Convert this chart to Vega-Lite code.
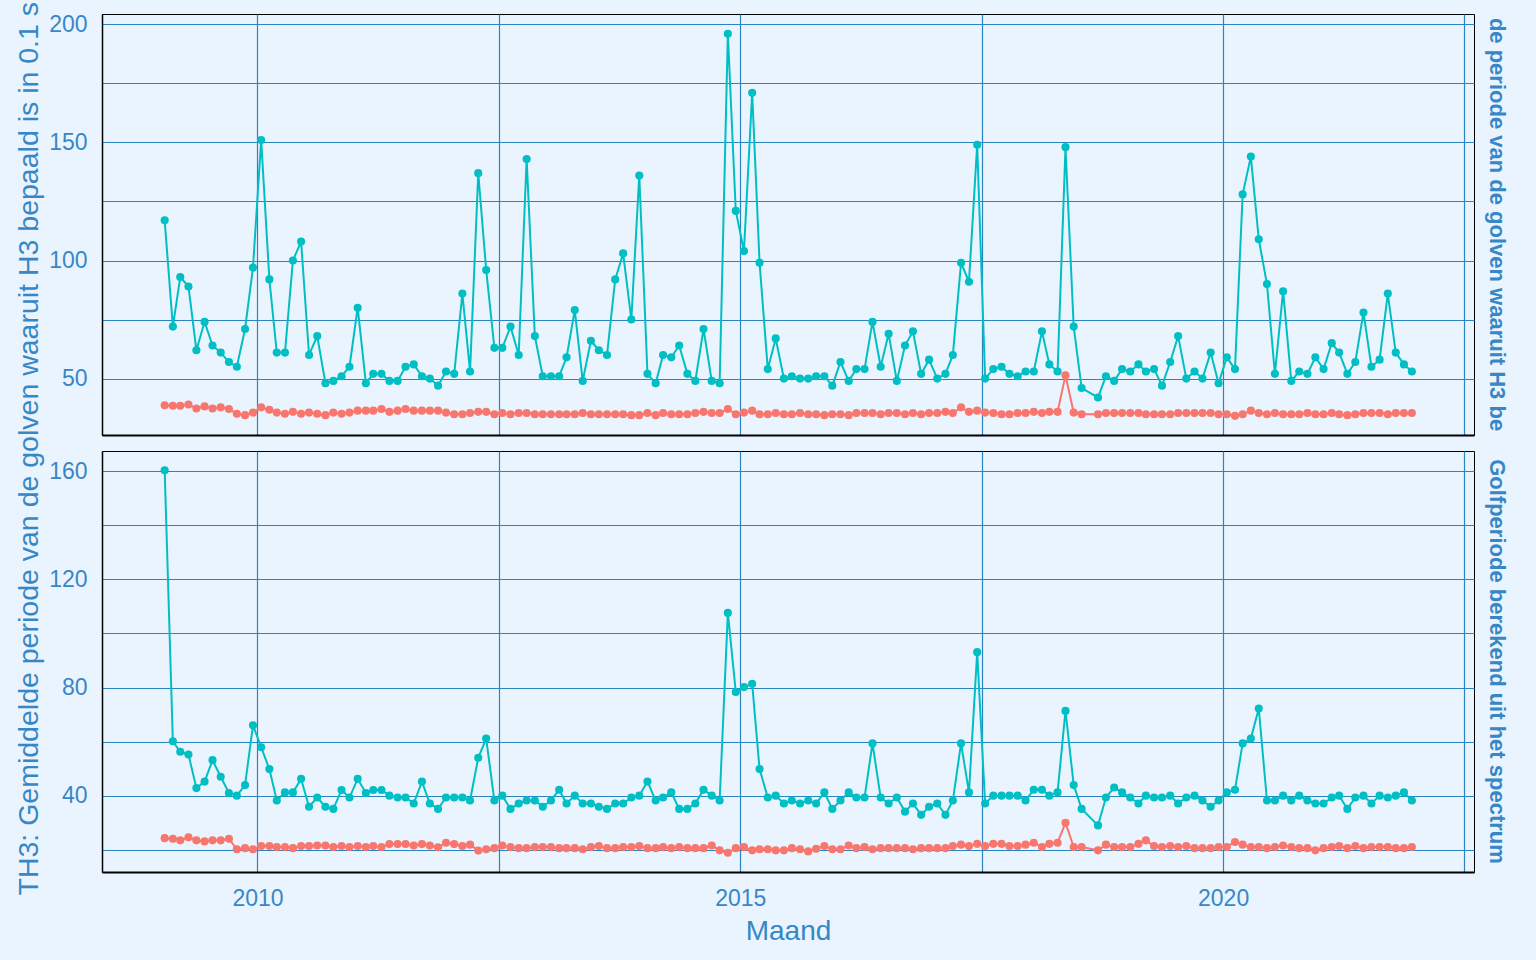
{
  "$schema": "https://vega.github.io/schema/vega-lite/v6.json",
  "autosize": {"type": "none"},
  "padding": {"left": 102, "top": 14, "right": 1434, "bottom": 946},
  "background": "#EAF4FE",
  "spacing": 16,
  "bounds": "flush",
  "config": {
    "font": "Liberation Sans",
    "view": {"stroke": "black", "strokeWidth": 1, "fill": "#EAF4FE"},
    "axis": {
      "gridColor": "#2B83C0", "gridWidth": 1.2, "gridOpacity": 1,
      "ticks": false, "tickSize": 0,
      "labelColor": "#3787C7", "labelFontSize": 23,
      "titleColor": "#3787C7", "titleFontSize": 28, "titleFontWeight": "normal",
      "domainColor": "black"
    }
  },
  "datasets": {
    "th3": [
      {"maand":"2009-01-15","reeks":"A","waarde":38.7},{"maand":"2009-02-15","reeks":"A","waarde":38.5},{"maand":"2009-03-15","reeks":"A","waarde":38.5},{"maand":"2009-04-15","reeks":"A","waarde":39.0},{"maand":"2009-05-15","reeks":"A","waarde":37.3},{"maand":"2009-06-15","reeks":"A","waarde":38.2},{"maand":"2009-07-15","reeks":"A","waarde":37.3},{"maand":"2009-08-15","reeks":"A","waarde":37.8},{"maand":"2009-09-15","reeks":"A","waarde":37.1},{"maand":"2009-10-15","reeks":"A","waarde":35.1},{"maand":"2009-11-15","reeks":"A","waarde":34.5},{"maand":"2009-12-15","reeks":"A","waarde":35.6},
      {"maand":"2010-01-15","reeks":"A","waarde":37.8},{"maand":"2010-02-15","reeks":"A","waarde":36.8},{"maand":"2010-03-15","reeks":"A","waarde":35.6},{"maand":"2010-04-15","reeks":"A","waarde":35.1},{"maand":"2010-05-15","reeks":"A","waarde":35.9},{"maand":"2010-06-15","reeks":"A","waarde":35.1},{"maand":"2010-07-15","reeks":"A","waarde":35.6},{"maand":"2010-08-15","reeks":"A","waarde":35.1},{"maand":"2010-09-15","reeks":"A","waarde":34.5},{"maand":"2010-10-15","reeks":"A","waarde":35.6},{"maand":"2010-11-15","reeks":"A","waarde":35.1},{"maand":"2010-12-15","reeks":"A","waarde":35.6},
      {"maand":"2011-01-15","reeks":"A","waarde":36.4},{"maand":"2011-02-15","reeks":"A","waarde":36.4},{"maand":"2011-03-15","reeks":"A","waarde":36.4},{"maand":"2011-04-15","reeks":"A","waarde":37.1},{"maand":"2011-05-15","reeks":"A","waarde":35.9},{"maand":"2011-06-15","reeks":"A","waarde":36.4},{"maand":"2011-07-15","reeks":"A","waarde":37.1},{"maand":"2011-08-15","reeks":"A","waarde":36.4},{"maand":"2011-09-15","reeks":"A","waarde":36.4},{"maand":"2011-10-15","reeks":"A","waarde":36.4},{"maand":"2011-11-15","reeks":"A","waarde":36.4},{"maand":"2011-12-15","reeks":"A","waarde":35.6},
      {"maand":"2012-01-15","reeks":"A","waarde":34.9},{"maand":"2012-02-15","reeks":"A","waarde":34.9},{"maand":"2012-03-15","reeks":"A","waarde":35.4},{"maand":"2012-04-15","reeks":"A","waarde":35.9},{"maand":"2012-05-15","reeks":"A","waarde":35.9},{"maand":"2012-06-15","reeks":"A","waarde":34.9},{"maand":"2012-07-15","reeks":"A","waarde":35.4},{"maand":"2012-08-15","reeks":"A","waarde":34.9},{"maand":"2012-09-15","reeks":"A","waarde":35.4},{"maand":"2012-10-15","reeks":"A","waarde":35.4},{"maand":"2012-11-15","reeks":"A","waarde":34.9},{"maand":"2012-12-15","reeks":"A","waarde":34.9},
      {"maand":"2013-01-15","reeks":"A","waarde":34.9},{"maand":"2013-02-15","reeks":"A","waarde":34.9},{"maand":"2013-03-15","reeks":"A","waarde":34.9},{"maand":"2013-04-15","reeks":"A","waarde":34.9},{"maand":"2013-05-15","reeks":"A","waarde":35.4},{"maand":"2013-06-15","reeks":"A","waarde":34.9},{"maand":"2013-07-15","reeks":"A","waarde":34.9},{"maand":"2013-08-15","reeks":"A","waarde":34.9},{"maand":"2013-09-15","reeks":"A","waarde":34.9},{"maand":"2013-10-15","reeks":"A","waarde":34.9},{"maand":"2013-11-15","reeks":"A","waarde":34.5},{"maand":"2013-12-15","reeks":"A","waarde":34.5},
      {"maand":"2014-01-15","reeks":"A","waarde":35.4},{"maand":"2014-02-15","reeks":"A","waarde":34.5},{"maand":"2014-03-15","reeks":"A","waarde":35.4},{"maand":"2014-04-15","reeks":"A","waarde":34.9},{"maand":"2014-05-15","reeks":"A","waarde":34.9},{"maand":"2014-06-15","reeks":"A","waarde":34.9},{"maand":"2014-07-15","reeks":"A","waarde":35.4},{"maand":"2014-08-15","reeks":"A","waarde":35.9},{"maand":"2014-09-15","reeks":"A","waarde":35.4},{"maand":"2014-10-15","reeks":"A","waarde":35.4},{"maand":"2014-11-15","reeks":"A","waarde":37.1},{"maand":"2014-12-15","reeks":"A","waarde":34.9},
      {"maand":"2015-01-15","reeks":"A","waarde":35.6},{"maand":"2015-02-15","reeks":"A","waarde":36.4},{"maand":"2015-03-15","reeks":"A","waarde":34.9},{"maand":"2015-04-15","reeks":"A","waarde":34.9},{"maand":"2015-05-15","reeks":"A","waarde":35.4},{"maand":"2015-06-15","reeks":"A","waarde":34.9},{"maand":"2015-07-15","reeks":"A","waarde":34.9},{"maand":"2015-08-15","reeks":"A","waarde":35.4},{"maand":"2015-09-15","reeks":"A","waarde":34.9},{"maand":"2015-10-15","reeks":"A","waarde":34.9},{"maand":"2015-11-15","reeks":"A","waarde":34.5},{"maand":"2015-12-15","reeks":"A","waarde":34.9},
      {"maand":"2016-01-15","reeks":"A","waarde":34.9},{"maand":"2016-02-15","reeks":"A","waarde":34.5},{"maand":"2016-03-15","reeks":"A","waarde":35.4},{"maand":"2016-04-15","reeks":"A","waarde":35.4},{"maand":"2016-05-15","reeks":"A","waarde":35.4},{"maand":"2016-06-15","reeks":"A","waarde":34.9},{"maand":"2016-07-15","reeks":"A","waarde":35.4},{"maand":"2016-08-15","reeks":"A","waarde":35.4},{"maand":"2016-09-15","reeks":"A","waarde":34.9},{"maand":"2016-10-15","reeks":"A","waarde":35.4},{"maand":"2016-11-15","reeks":"A","waarde":34.9},{"maand":"2016-12-15","reeks":"A","waarde":35.4},
      {"maand":"2017-01-15","reeks":"A","waarde":35.4},{"maand":"2017-02-15","reeks":"A","waarde":35.9},{"maand":"2017-03-15","reeks":"A","waarde":35.4},{"maand":"2017-04-15","reeks":"A","waarde":37.8},{"maand":"2017-05-15","reeks":"A","waarde":35.9},{"maand":"2017-06-15","reeks":"A","waarde":36.4},{"maand":"2017-07-15","reeks":"A","waarde":35.6},{"maand":"2017-08-15","reeks":"A","waarde":35.4},{"maand":"2017-09-15","reeks":"A","waarde":34.9},{"maand":"2017-10-15","reeks":"A","waarde":34.9},{"maand":"2017-11-15","reeks":"A","waarde":35.4},{"maand":"2017-12-15","reeks":"A","waarde":35.4},
      {"maand":"2018-01-15","reeks":"A","waarde":35.9},{"maand":"2018-02-15","reeks":"A","waarde":35.4},{"maand":"2018-03-15","reeks":"A","waarde":35.9},{"maand":"2018-04-15","reeks":"A","waarde":35.9},{"maand":"2018-05-15","reeks":"A","waarde":51.4},{"maand":"2018-06-15","reeks":"A","waarde":35.6},{"maand":"2018-07-15","reeks":"A","waarde":34.9},{"maand":"2018-09-15","reeks":"A","waarde":34.9},{"maand":"2018-10-15","reeks":"A","waarde":35.4},{"maand":"2018-11-15","reeks":"A","waarde":35.4},{"maand":"2018-12-15","reeks":"A","waarde":35.4},
      {"maand":"2019-01-15","reeks":"A","waarde":35.4},{"maand":"2019-02-15","reeks":"A","waarde":35.4},{"maand":"2019-03-15","reeks":"A","waarde":34.9},{"maand":"2019-04-15","reeks":"A","waarde":34.9},{"maand":"2019-05-15","reeks":"A","waarde":34.9},{"maand":"2019-06-15","reeks":"A","waarde":34.9},{"maand":"2019-07-15","reeks":"A","waarde":35.4},{"maand":"2019-08-15","reeks":"A","waarde":35.4},{"maand":"2019-09-15","reeks":"A","waarde":35.4},{"maand":"2019-10-15","reeks":"A","waarde":35.4},{"maand":"2019-11-15","reeks":"A","waarde":35.4},{"maand":"2019-12-15","reeks":"A","waarde":34.9},
      {"maand":"2020-01-15","reeks":"A","waarde":34.9},{"maand":"2020-02-15","reeks":"A","waarde":34.2},{"maand":"2020-03-15","reeks":"A","waarde":34.9},{"maand":"2020-04-15","reeks":"A","waarde":36.4},{"maand":"2020-05-15","reeks":"A","waarde":35.4},{"maand":"2020-06-15","reeks":"A","waarde":34.9},{"maand":"2020-07-15","reeks":"A","waarde":35.4},{"maand":"2020-08-15","reeks":"A","waarde":34.9},{"maand":"2020-09-15","reeks":"A","waarde":34.9},{"maand":"2020-10-15","reeks":"A","waarde":34.9},{"maand":"2020-11-15","reeks":"A","waarde":35.4},{"maand":"2020-12-15","reeks":"A","waarde":34.9},
      {"maand":"2021-01-15","reeks":"A","waarde":34.9},{"maand":"2021-02-15","reeks":"A","waarde":35.4},{"maand":"2021-03-15","reeks":"A","waarde":34.9},{"maand":"2021-04-15","reeks":"A","waarde":34.5},{"maand":"2021-05-15","reeks":"A","waarde":34.9},{"maand":"2021-06-15","reeks":"A","waarde":35.4},{"maand":"2021-07-15","reeks":"A","waarde":35.4},{"maand":"2021-08-15","reeks":"A","waarde":35.4},{"maand":"2021-09-15","reeks":"A","waarde":34.9},{"maand":"2021-10-15","reeks":"A","waarde":35.4},{"maand":"2021-11-15","reeks":"A","waarde":35.4},{"maand":"2021-12-15","reeks":"A","waarde":35.4},
      {"maand":"2009-01-15","reeks":"B","waarde":117},{"maand":"2009-02-15","reeks":"B","waarde":72},{"maand":"2009-03-15","reeks":"B","waarde":93},{"maand":"2009-04-15","reeks":"B","waarde":89},{"maand":"2009-05-15","reeks":"B","waarde":62},{"maand":"2009-06-15","reeks":"B","waarde":74},{"maand":"2009-07-15","reeks":"B","waarde":64},{"maand":"2009-08-15","reeks":"B","waarde":61},{"maand":"2009-09-15","reeks":"B","waarde":57},{"maand":"2009-10-15","reeks":"B","waarde":55},{"maand":"2009-11-15","reeks":"B","waarde":71},{"maand":"2009-12-15","reeks":"B","waarde":97},
      {"maand":"2010-01-15","reeks":"B","waarde":151},{"maand":"2010-02-15","reeks":"B","waarde":92},{"maand":"2010-03-15","reeks":"B","waarde":61},{"maand":"2010-04-15","reeks":"B","waarde":61},{"maand":"2010-05-15","reeks":"B","waarde":100},{"maand":"2010-06-15","reeks":"B","waarde":108},{"maand":"2010-07-15","reeks":"B","waarde":60},{"maand":"2010-08-15","reeks":"B","waarde":68},{"maand":"2010-09-15","reeks":"B","waarde":48},{"maand":"2010-10-15","reeks":"B","waarde":49},{"maand":"2010-11-15","reeks":"B","waarde":51},{"maand":"2010-12-15","reeks":"B","waarde":55},
      {"maand":"2011-01-15","reeks":"B","waarde":80},{"maand":"2011-02-15","reeks":"B","waarde":48},{"maand":"2011-03-15","reeks":"B","waarde":52},{"maand":"2011-04-15","reeks":"B","waarde":52},{"maand":"2011-05-15","reeks":"B","waarde":49},{"maand":"2011-06-15","reeks":"B","waarde":49},{"maand":"2011-07-15","reeks":"B","waarde":55},{"maand":"2011-08-15","reeks":"B","waarde":56},{"maand":"2011-09-15","reeks":"B","waarde":51},{"maand":"2011-10-15","reeks":"B","waarde":50},{"maand":"2011-11-15","reeks":"B","waarde":47},{"maand":"2011-12-15","reeks":"B","waarde":53},
      {"maand":"2012-01-15","reeks":"B","waarde":52},{"maand":"2012-02-15","reeks":"B","waarde":86},{"maand":"2012-03-15","reeks":"B","waarde":53},{"maand":"2012-04-15","reeks":"B","waarde":137},{"maand":"2012-05-15","reeks":"B","waarde":96},{"maand":"2012-06-15","reeks":"B","waarde":63},{"maand":"2012-07-15","reeks":"B","waarde":63},{"maand":"2012-08-15","reeks":"B","waarde":72},{"maand":"2012-09-15","reeks":"B","waarde":60},{"maand":"2012-10-15","reeks":"B","waarde":143},{"maand":"2012-11-15","reeks":"B","waarde":68},{"maand":"2012-12-15","reeks":"B","waarde":51},
      {"maand":"2013-01-15","reeks":"B","waarde":51},{"maand":"2013-02-15","reeks":"B","waarde":51},{"maand":"2013-03-15","reeks":"B","waarde":59},{"maand":"2013-04-15","reeks":"B","waarde":79},{"maand":"2013-05-15","reeks":"B","waarde":49},{"maand":"2013-06-15","reeks":"B","waarde":66},{"maand":"2013-07-15","reeks":"B","waarde":62},{"maand":"2013-08-15","reeks":"B","waarde":60},{"maand":"2013-09-15","reeks":"B","waarde":92},{"maand":"2013-10-15","reeks":"B","waarde":103},{"maand":"2013-11-15","reeks":"B","waarde":75},{"maand":"2013-12-15","reeks":"B","waarde":136},
      {"maand":"2014-01-15","reeks":"B","waarde":52},{"maand":"2014-02-15","reeks":"B","waarde":48},{"maand":"2014-03-15","reeks":"B","waarde":60},{"maand":"2014-04-15","reeks":"B","waarde":59},{"maand":"2014-05-15","reeks":"B","waarde":64},{"maand":"2014-06-15","reeks":"B","waarde":52},{"maand":"2014-07-15","reeks":"B","waarde":49},{"maand":"2014-08-15","reeks":"B","waarde":71},{"maand":"2014-09-15","reeks":"B","waarde":49},{"maand":"2014-10-15","reeks":"B","waarde":48},{"maand":"2014-11-15","reeks":"B","waarde":196},{"maand":"2014-12-15","reeks":"B","waarde":121},
      {"maand":"2015-01-15","reeks":"B","waarde":104},{"maand":"2015-02-15","reeks":"B","waarde":171},{"maand":"2015-03-15","reeks":"B","waarde":99},{"maand":"2015-04-15","reeks":"B","waarde":54},{"maand":"2015-05-15","reeks":"B","waarde":67},{"maand":"2015-06-15","reeks":"B","waarde":50},{"maand":"2015-07-15","reeks":"B","waarde":51},{"maand":"2015-08-15","reeks":"B","waarde":50},{"maand":"2015-09-15","reeks":"B","waarde":50},{"maand":"2015-10-15","reeks":"B","waarde":51},{"maand":"2015-11-15","reeks":"B","waarde":51},{"maand":"2015-12-15","reeks":"B","waarde":47},
      {"maand":"2016-01-15","reeks":"B","waarde":57},{"maand":"2016-02-15","reeks":"B","waarde":49},{"maand":"2016-03-15","reeks":"B","waarde":54},{"maand":"2016-04-15","reeks":"B","waarde":54},{"maand":"2016-05-15","reeks":"B","waarde":74},{"maand":"2016-06-15","reeks":"B","waarde":55},{"maand":"2016-07-15","reeks":"B","waarde":69},{"maand":"2016-08-15","reeks":"B","waarde":49},{"maand":"2016-09-15","reeks":"B","waarde":64},{"maand":"2016-10-15","reeks":"B","waarde":70},{"maand":"2016-11-15","reeks":"B","waarde":52},{"maand":"2016-12-15","reeks":"B","waarde":58},
      {"maand":"2017-01-15","reeks":"B","waarde":50},{"maand":"2017-02-15","reeks":"B","waarde":52},{"maand":"2017-03-15","reeks":"B","waarde":60},{"maand":"2017-04-15","reeks":"B","waarde":99},{"maand":"2017-05-15","reeks":"B","waarde":91},{"maand":"2017-06-15","reeks":"B","waarde":149},{"maand":"2017-07-15","reeks":"B","waarde":50},{"maand":"2017-08-15","reeks":"B","waarde":54},{"maand":"2017-09-15","reeks":"B","waarde":55},{"maand":"2017-10-15","reeks":"B","waarde":52},{"maand":"2017-11-15","reeks":"B","waarde":51},{"maand":"2017-12-15","reeks":"B","waarde":53},
      {"maand":"2018-01-15","reeks":"B","waarde":53},{"maand":"2018-02-15","reeks":"B","waarde":70},{"maand":"2018-03-15","reeks":"B","waarde":56},{"maand":"2018-04-15","reeks":"B","waarde":53},{"maand":"2018-05-15","reeks":"B","waarde":148},{"maand":"2018-06-15","reeks":"B","waarde":72},{"maand":"2018-07-15","reeks":"B","waarde":46},{"maand":"2018-09-15","reeks":"B","waarde":42},{"maand":"2018-10-15","reeks":"B","waarde":51},{"maand":"2018-11-15","reeks":"B","waarde":49},{"maand":"2018-12-15","reeks":"B","waarde":54},
      {"maand":"2019-01-15","reeks":"B","waarde":53},{"maand":"2019-02-15","reeks":"B","waarde":56},{"maand":"2019-03-15","reeks":"B","waarde":53},{"maand":"2019-04-15","reeks":"B","waarde":54},{"maand":"2019-05-15","reeks":"B","waarde":47},{"maand":"2019-06-15","reeks":"B","waarde":57},{"maand":"2019-07-15","reeks":"B","waarde":68},{"maand":"2019-08-15","reeks":"B","waarde":50},{"maand":"2019-09-15","reeks":"B","waarde":53},{"maand":"2019-10-15","reeks":"B","waarde":50},{"maand":"2019-11-15","reeks":"B","waarde":61},{"maand":"2019-12-15","reeks":"B","waarde":48},
      {"maand":"2020-01-15","reeks":"B","waarde":59},{"maand":"2020-02-15","reeks":"B","waarde":54},{"maand":"2020-03-15","reeks":"B","waarde":128},{"maand":"2020-04-15","reeks":"B","waarde":144},{"maand":"2020-05-15","reeks":"B","waarde":109},{"maand":"2020-06-15","reeks":"B","waarde":90},{"maand":"2020-07-15","reeks":"B","waarde":52},{"maand":"2020-08-15","reeks":"B","waarde":87},{"maand":"2020-09-15","reeks":"B","waarde":49},{"maand":"2020-10-15","reeks":"B","waarde":53},{"maand":"2020-11-15","reeks":"B","waarde":52},{"maand":"2020-12-15","reeks":"B","waarde":59},
      {"maand":"2021-01-15","reeks":"B","waarde":54},{"maand":"2021-02-15","reeks":"B","waarde":65},{"maand":"2021-03-15","reeks":"B","waarde":61},{"maand":"2021-04-15","reeks":"B","waarde":52},{"maand":"2021-05-15","reeks":"B","waarde":57},{"maand":"2021-06-15","reeks":"B","waarde":78},{"maand":"2021-07-15","reeks":"B","waarde":55},{"maand":"2021-08-15","reeks":"B","waarde":58},{"maand":"2021-09-15","reeks":"B","waarde":86},{"maand":"2021-10-15","reeks":"B","waarde":61},{"maand":"2021-11-15","reeks":"B","waarde":56},{"maand":"2021-12-15","reeks":"B","waarde":53}
    ],
    "tm02": [
      {"maand":"2009-01-15","reeks":"A","waarde":24.4},{"maand":"2009-02-15","reeks":"A","waarde":24.2},{"maand":"2009-03-15","reeks":"A","waarde":23.6},{"maand":"2009-04-15","reeks":"A","waarde":24.7},{"maand":"2009-05-15","reeks":"A","waarde":23.6},{"maand":"2009-06-15","reeks":"A","waarde":23.2},{"maand":"2009-07-15","reeks":"A","waarde":23.6},{"maand":"2009-08-15","reeks":"A","waarde":23.6},{"maand":"2009-09-15","reeks":"A","waarde":24.2},{"maand":"2009-10-15","reeks":"A","waarde":20.3},{"maand":"2009-11-15","reeks":"A","waarde":20.7},{"maand":"2009-12-15","reeks":"A","waarde":20.3},
      {"maand":"2010-01-15","reeks":"A","waarde":21.5},{"maand":"2010-02-15","reeks":"A","waarde":21.5},{"maand":"2010-03-15","reeks":"A","waarde":21.1},{"maand":"2010-04-15","reeks":"A","waarde":21.1},{"maand":"2010-05-15","reeks":"A","waarde":20.7},{"maand":"2010-06-15","reeks":"A","waarde":21.5},{"maand":"2010-07-15","reeks":"A","waarde":21.5},{"maand":"2010-08-15","reeks":"A","waarde":21.7},{"maand":"2010-09-15","reeks":"A","waarde":21.7},{"maand":"2010-10-15","reeks":"A","waarde":21.1},{"maand":"2010-11-15","reeks":"A","waarde":21.5},{"maand":"2010-12-15","reeks":"A","waarde":21.1},
      {"maand":"2011-01-15","reeks":"A","waarde":21.5},{"maand":"2011-02-15","reeks":"A","waarde":21.1},{"maand":"2011-03-15","reeks":"A","waarde":21.5},{"maand":"2011-04-15","reeks":"A","waarde":21.1},{"maand":"2011-05-15","reeks":"A","waarde":22.2},{"maand":"2011-06-15","reeks":"A","waarde":22.2},{"maand":"2011-07-15","reeks":"A","waarde":22.2},{"maand":"2011-08-15","reeks":"A","waarde":21.7},{"maand":"2011-09-15","reeks":"A","waarde":22.2},{"maand":"2011-10-15","reeks":"A","waarde":21.7},{"maand":"2011-11-15","reeks":"A","waarde":21.0},{"maand":"2011-12-15","reeks":"A","waarde":22.7},
      {"maand":"2012-01-15","reeks":"A","waarde":22.2},{"maand":"2012-02-15","reeks":"A","waarde":21.5},{"maand":"2012-03-15","reeks":"A","waarde":22.0},{"maand":"2012-04-15","reeks":"A","waarde":19.8},{"maand":"2012-05-15","reeks":"A","waarde":20.3},{"maand":"2012-06-15","reeks":"A","waarde":20.7},{"maand":"2012-07-15","reeks":"A","waarde":21.7},{"maand":"2012-08-15","reeks":"A","waarde":21.1},{"maand":"2012-09-15","reeks":"A","waarde":20.7},{"maand":"2012-10-15","reeks":"A","waarde":20.7},{"maand":"2012-11-15","reeks":"A","waarde":21.1},{"maand":"2012-12-15","reeks":"A","waarde":21.1},
      {"maand":"2013-01-15","reeks":"A","waarde":21.1},{"maand":"2013-02-15","reeks":"A","waarde":20.7},{"maand":"2013-03-15","reeks":"A","waarde":20.7},{"maand":"2013-04-15","reeks":"A","waarde":20.7},{"maand":"2013-05-15","reeks":"A","waarde":20.3},{"maand":"2013-06-15","reeks":"A","waarde":21.1},{"maand":"2013-07-15","reeks":"A","waarde":21.5},{"maand":"2013-08-15","reeks":"A","waarde":20.7},{"maand":"2013-09-15","reeks":"A","waarde":20.7},{"maand":"2013-10-15","reeks":"A","waarde":21.1},{"maand":"2013-11-15","reeks":"A","waarde":21.1},{"maand":"2013-12-15","reeks":"A","waarde":21.5},
      {"maand":"2014-01-15","reeks":"A","waarde":20.7},{"maand":"2014-02-15","reeks":"A","waarde":20.7},{"maand":"2014-03-15","reeks":"A","waarde":21.1},{"maand":"2014-04-15","reeks":"A","waarde":20.7},{"maand":"2014-05-15","reeks":"A","waarde":21.1},{"maand":"2014-06-15","reeks":"A","waarde":20.7},{"maand":"2014-07-15","reeks":"A","waarde":20.7},{"maand":"2014-08-15","reeks":"A","waarde":20.7},{"maand":"2014-09-15","reeks":"A","waarde":21.7},{"maand":"2014-10-15","reeks":"A","waarde":19.9},{"maand":"2014-11-15","reeks":"A","waarde":19.0},{"maand":"2014-12-15","reeks":"A","waarde":20.7},
      {"maand":"2015-01-15","reeks":"A","waarde":21.1},{"maand":"2015-02-15","reeks":"A","waarde":19.9},{"maand":"2015-03-15","reeks":"A","waarde":20.3},{"maand":"2015-04-15","reeks":"A","waarde":20.3},{"maand":"2015-05-15","reeks":"A","waarde":19.9},{"maand":"2015-06-15","reeks":"A","waarde":19.9},{"maand":"2015-07-15","reeks":"A","waarde":20.7},{"maand":"2015-08-15","reeks":"A","waarde":20.3},{"maand":"2015-09-15","reeks":"A","waarde":19.5},{"maand":"2015-10-15","reeks":"A","waarde":20.5},{"maand":"2015-11-15","reeks":"A","waarde":21.5},{"maand":"2015-12-15","reeks":"A","waarde":20.3},
      {"maand":"2016-01-15","reeks":"A","waarde":20.3},{"maand":"2016-02-15","reeks":"A","waarde":21.7},{"maand":"2016-03-15","reeks":"A","waarde":20.7},{"maand":"2016-04-15","reeks":"A","waarde":21.1},{"maand":"2016-05-15","reeks":"A","waarde":20.3},{"maand":"2016-06-15","reeks":"A","waarde":20.7},{"maand":"2016-07-15","reeks":"A","waarde":20.7},{"maand":"2016-08-15","reeks":"A","waarde":20.7},{"maand":"2016-09-15","reeks":"A","waarde":20.7},{"maand":"2016-10-15","reeks":"A","waarde":20.3},{"maand":"2016-11-15","reeks":"A","waarde":20.7},{"maand":"2016-12-15","reeks":"A","waarde":20.7},
      {"maand":"2017-01-15","reeks":"A","waarde":20.7},{"maand":"2017-02-15","reeks":"A","waarde":20.7},{"maand":"2017-03-15","reeks":"A","waarde":21.5},{"maand":"2017-04-15","reeks":"A","waarde":22.0},{"maand":"2017-05-15","reeks":"A","waarde":21.5},{"maand":"2017-06-15","reeks":"A","waarde":22.3},{"maand":"2017-07-15","reeks":"A","waarde":21.5},{"maand":"2017-08-15","reeks":"A","waarde":22.3},{"maand":"2017-09-15","reeks":"A","waarde":22.3},{"maand":"2017-10-15","reeks":"A","waarde":21.5},{"maand":"2017-11-15","reeks":"A","waarde":21.5},{"maand":"2017-12-15","reeks":"A","waarde":22.0},
      {"maand":"2018-01-15","reeks":"A","waarde":22.7},{"maand":"2018-02-15","reeks":"A","waarde":21.1},{"maand":"2018-03-15","reeks":"A","waarde":22.3},{"maand":"2018-04-15","reeks":"A","waarde":22.7},{"maand":"2018-05-15","reeks":"A","waarde":30.1},{"maand":"2018-06-15","reeks":"A","waarde":21.1},{"maand":"2018-07-15","reeks":"A","waarde":21.1},{"maand":"2018-09-15","reeks":"A","waarde":19.9},{"maand":"2018-10-15","reeks":"A","waarde":22.0},{"maand":"2018-11-15","reeks":"A","waarde":21.1},{"maand":"2018-12-15","reeks":"A","waarde":21.1},
      {"maand":"2019-01-15","reeks":"A","waarde":21.1},{"maand":"2019-02-15","reeks":"A","waarde":22.3},{"maand":"2019-03-15","reeks":"A","waarde":23.6},{"maand":"2019-04-15","reeks":"A","waarde":21.5},{"maand":"2019-05-15","reeks":"A","waarde":21.1},{"maand":"2019-06-15","reeks":"A","waarde":21.5},{"maand":"2019-07-15","reeks":"A","waarde":21.1},{"maand":"2019-08-15","reeks":"A","waarde":21.5},{"maand":"2019-09-15","reeks":"A","waarde":20.7},{"maand":"2019-10-15","reeks":"A","waarde":20.7},{"maand":"2019-11-15","reeks":"A","waarde":20.7},{"maand":"2019-12-15","reeks":"A","waarde":21.1},
      {"maand":"2020-01-15","reeks":"A","waarde":21.1},{"maand":"2020-02-15","reeks":"A","waarde":23.0},{"maand":"2020-03-15","reeks":"A","waarde":22.0},{"maand":"2020-04-15","reeks":"A","waarde":21.1},{"maand":"2020-05-15","reeks":"A","waarde":21.1},{"maand":"2020-06-15","reeks":"A","waarde":20.7},{"maand":"2020-07-15","reeks":"A","waarde":21.1},{"maand":"2020-08-15","reeks":"A","waarde":21.7},{"maand":"2020-09-15","reeks":"A","waarde":21.1},{"maand":"2020-10-15","reeks":"A","waarde":20.7},{"maand":"2020-11-15","reeks":"A","waarde":20.7},{"maand":"2020-12-15","reeks":"A","waarde":19.9},
      {"maand":"2021-01-15","reeks":"A","waarde":20.7},{"maand":"2021-02-15","reeks":"A","waarde":21.1},{"maand":"2021-03-15","reeks":"A","waarde":21.5},{"maand":"2021-04-15","reeks":"A","waarde":20.7},{"maand":"2021-05-15","reeks":"A","waarde":21.5},{"maand":"2021-06-15","reeks":"A","waarde":20.7},{"maand":"2021-07-15","reeks":"A","waarde":21.1},{"maand":"2021-08-15","reeks":"A","waarde":21.1},{"maand":"2021-09-15","reeks":"A","waarde":21.1},{"maand":"2021-10-15","reeks":"A","waarde":20.7},{"maand":"2021-11-15","reeks":"A","waarde":20.7},{"maand":"2021-12-15","reeks":"A","waarde":21.1},
      {"maand":"2009-01-15","reeks":"B","waarde":160.3},{"maand":"2009-02-15","reeks":"B","waarde":60.2},{"maand":"2009-03-15","reeks":"B","waarde":56.3},{"maand":"2009-04-15","reeks":"B","waarde":55.3},{"maand":"2009-05-15","reeks":"B","waarde":42.9},{"maand":"2009-06-15","reeks":"B","waarde":45.3},{"maand":"2009-07-15","reeks":"B","waarde":53.2},{"maand":"2009-08-15","reeks":"B","waarde":47.1},{"maand":"2009-09-15","reeks":"B","waarde":41.1},{"maand":"2009-10-15","reeks":"B","waarde":40.1},{"maand":"2009-11-15","reeks":"B","waarde":44.0},{"maand":"2009-12-15","reeks":"B","waarde":66.1},
      {"maand":"2010-01-15","reeks":"B","waarde":58.0},{"maand":"2010-02-15","reeks":"B","waarde":49.9},{"maand":"2010-03-15","reeks":"B","waarde":38.3},{"maand":"2010-04-15","reeks":"B","waarde":41.3},{"maand":"2010-05-15","reeks":"B","waarde":41.3},{"maand":"2010-06-15","reeks":"B","waarde":46.3},{"maand":"2010-07-15","reeks":"B","waarde":36.0},{"maand":"2010-08-15","reeks":"B","waarde":39.4},{"maand":"2010-09-15","reeks":"B","waarde":36.0},{"maand":"2010-10-15","reeks":"B","waarde":35.2},{"maand":"2010-11-15","reeks":"B","waarde":42.2},{"maand":"2010-12-15","reeks":"B","waarde":39.4},
      {"maand":"2011-01-15","reeks":"B","waarde":46.3},{"maand":"2011-02-15","reeks":"B","waarde":41.1},{"maand":"2011-03-15","reeks":"B","waarde":42.2},{"maand":"2011-04-15","reeks":"B","waarde":42.2},{"maand":"2011-05-15","reeks":"B","waarde":40.1},{"maand":"2011-06-15","reeks":"B","waarde":39.4},{"maand":"2011-07-15","reeks":"B","waarde":39.4},{"maand":"2011-08-15","reeks":"B","waarde":37.2},{"maand":"2011-09-15","reeks":"B","waarde":45.3},{"maand":"2011-10-15","reeks":"B","waarde":37.2},{"maand":"2011-11-15","reeks":"B","waarde":35.2},{"maand":"2011-12-15","reeks":"B","waarde":39.4},
      {"maand":"2012-01-15","reeks":"B","waarde":39.4},{"maand":"2012-02-15","reeks":"B","waarde":39.4},{"maand":"2012-03-15","reeks":"B","waarde":38.3},{"maand":"2012-04-15","reeks":"B","waarde":54.1},{"maand":"2012-05-15","reeks":"B","waarde":61.2},{"maand":"2012-06-15","reeks":"B","waarde":38.3},{"maand":"2012-07-15","reeks":"B","waarde":40.1},{"maand":"2012-08-15","reeks":"B","waarde":35.2},{"maand":"2012-09-15","reeks":"B","waarde":37.2},{"maand":"2012-10-15","reeks":"B","waarde":38.3},{"maand":"2012-11-15","reeks":"B","waarde":38.3},{"maand":"2012-12-15","reeks":"B","waarde":36.0},
      {"maand":"2013-01-15","reeks":"B","waarde":38.3},{"maand":"2013-02-15","reeks":"B","waarde":42.3},{"maand":"2013-03-15","reeks":"B","waarde":37.2},{"maand":"2013-04-15","reeks":"B","waarde":40.1},{"maand":"2013-05-15","reeks":"B","waarde":37.2},{"maand":"2013-06-15","reeks":"B","waarde":37.2},{"maand":"2013-07-15","reeks":"B","waarde":36.0},{"maand":"2013-08-15","reeks":"B","waarde":35.2},{"maand":"2013-09-15","reeks":"B","waarde":37.2},{"maand":"2013-10-15","reeks":"B","waarde":37.2},{"maand":"2013-11-15","reeks":"B","waarde":39.4},{"maand":"2013-12-15","reeks":"B","waarde":40.1},
      {"maand":"2014-01-15","reeks":"B","waarde":45.3},{"maand":"2014-02-15","reeks":"B","waarde":38.3},{"maand":"2014-03-15","reeks":"B","waarde":39.4},{"maand":"2014-04-15","reeks":"B","waarde":41.3},{"maand":"2014-05-15","reeks":"B","waarde":35.2},{"maand":"2014-06-15","reeks":"B","waarde":35.2},{"maand":"2014-07-15","reeks":"B","waarde":37.2},{"maand":"2014-08-15","reeks":"B","waarde":42.3},{"maand":"2014-09-15","reeks":"B","waarde":40.1},{"maand":"2014-10-15","reeks":"B","waarde":38.3},{"maand":"2014-11-15","reeks":"B","waarde":107.6},{"maand":"2014-12-15","reeks":"B","waarde":78.4},
      {"maand":"2015-01-15","reeks":"B","waarde":80.2},{"maand":"2015-02-15","reeks":"B","waarde":81.4},{"maand":"2015-03-15","reeks":"B","waarde":49.9},{"maand":"2015-04-15","reeks":"B","waarde":39.4},{"maand":"2015-05-15","reeks":"B","waarde":40.1},{"maand":"2015-06-15","reeks":"B","waarde":37.2},{"maand":"2015-07-15","reeks":"B","waarde":38.3},{"maand":"2015-08-15","reeks":"B","waarde":37.2},{"maand":"2015-09-15","reeks":"B","waarde":38.3},{"maand":"2015-10-15","reeks":"B","waarde":37.2},{"maand":"2015-11-15","reeks":"B","waarde":41.3},{"maand":"2015-12-15","reeks":"B","waarde":35.2},
      {"maand":"2016-01-15","reeks":"B","waarde":38.3},{"maand":"2016-02-15","reeks":"B","waarde":41.3},{"maand":"2016-03-15","reeks":"B","waarde":39.4},{"maand":"2016-04-15","reeks":"B","waarde":39.4},{"maand":"2016-05-15","reeks":"B","waarde":59.4},{"maand":"2016-06-15","reeks":"B","waarde":39.4},{"maand":"2016-07-15","reeks":"B","waarde":37.2},{"maand":"2016-08-15","reeks":"B","waarde":39.4},{"maand":"2016-09-15","reeks":"B","waarde":34.2},{"maand":"2016-10-15","reeks":"B","waarde":37.2},{"maand":"2016-11-15","reeks":"B","waarde":33.0},{"maand":"2016-12-15","reeks":"B","waarde":36.0},
      {"maand":"2017-01-15","reeks":"B","waarde":37.2},{"maand":"2017-02-15","reeks":"B","waarde":33.0},{"maand":"2017-03-15","reeks":"B","waarde":38.3},{"maand":"2017-04-15","reeks":"B","waarde":59.4},{"maand":"2017-05-15","reeks":"B","waarde":41.3},{"maand":"2017-06-15","reeks":"B","waarde":93.1},{"maand":"2017-07-15","reeks":"B","waarde":37.2},{"maand":"2017-08-15","reeks":"B","waarde":40.1},{"maand":"2017-09-15","reeks":"B","waarde":40.1},{"maand":"2017-10-15","reeks":"B","waarde":40.1},{"maand":"2017-11-15","reeks":"B","waarde":40.1},{"maand":"2017-12-15","reeks":"B","waarde":38.3},
      {"maand":"2018-01-15","reeks":"B","waarde":42.3},{"maand":"2018-02-15","reeks":"B","waarde":42.3},{"maand":"2018-03-15","reeks":"B","waarde":40.1},{"maand":"2018-04-15","reeks":"B","waarde":41.3},{"maand":"2018-05-15","reeks":"B","waarde":71.4},{"maand":"2018-06-15","reeks":"B","waarde":44.0},{"maand":"2018-07-15","reeks":"B","waarde":35.2},{"maand":"2018-09-15","reeks":"B","waarde":29.1},{"maand":"2018-10-15","reeks":"B","waarde":39.4},{"maand":"2018-11-15","reeks":"B","waarde":43.1},{"maand":"2018-12-15","reeks":"B","waarde":41.3},
      {"maand":"2019-01-15","reeks":"B","waarde":39.4},{"maand":"2019-02-15","reeks":"B","waarde":37.2},{"maand":"2019-03-15","reeks":"B","waarde":40.1},{"maand":"2019-04-15","reeks":"B","waarde":39.4},{"maand":"2019-05-15","reeks":"B","waarde":39.4},{"maand":"2019-06-15","reeks":"B","waarde":40.1},{"maand":"2019-07-15","reeks":"B","waarde":37.2},{"maand":"2019-08-15","reeks":"B","waarde":39.4},{"maand":"2019-09-15","reeks":"B","waarde":40.1},{"maand":"2019-10-15","reeks":"B","waarde":38.3},{"maand":"2019-11-15","reeks":"B","waarde":36.0},{"maand":"2019-12-15","reeks":"B","waarde":38.3},
      {"maand":"2020-01-15","reeks":"B","waarde":41.3},{"maand":"2020-02-15","reeks":"B","waarde":42.3},{"maand":"2020-03-15","reeks":"B","waarde":59.4},{"maand":"2020-04-15","reeks":"B","waarde":61.2},{"maand":"2020-05-15","reeks":"B","waarde":72.3},{"maand":"2020-06-15","reeks":"B","waarde":38.3},{"maand":"2020-07-15","reeks":"B","waarde":38.3},{"maand":"2020-08-15","reeks":"B","waarde":40.1},{"maand":"2020-09-15","reeks":"B","waarde":38.3},{"maand":"2020-10-15","reeks":"B","waarde":40.1},{"maand":"2020-11-15","reeks":"B","waarde":38.3},{"maand":"2020-12-15","reeks":"B","waarde":37.2},
      {"maand":"2021-01-15","reeks":"B","waarde":37.2},{"maand":"2021-02-15","reeks":"B","waarde":39.4},{"maand":"2021-03-15","reeks":"B","waarde":40.1},{"maand":"2021-04-15","reeks":"B","waarde":35.2},{"maand":"2021-05-15","reeks":"B","waarde":39.4},{"maand":"2021-06-15","reeks":"B","waarde":40.1},{"maand":"2021-07-15","reeks":"B","waarde":37.2},{"maand":"2021-08-15","reeks":"B","waarde":40.1},{"maand":"2021-09-15","reeks":"B","waarde":39.4},{"maand":"2021-10-15","reeks":"B","waarde":40.1},{"maand":"2021-11-15","reeks":"B","waarde":41.3},{"maand":"2021-12-15","reeks":"B","waarde":38.3}
    ]
  },
  "vconcat": [
    {
      "width": 1372,
      "height": 421,
      "data": {"name": "th3"},
      "title": {
        "text": "de periode van de golven waaruit H3 be",
        "orient": "right", "anchor": "middle", "offset": 11,
        "fontSize": 22, "fontWeight": "bold", "color": "#3787C7"
      },
      "encoding": {
        "x": {
          "field": "maand", "type": "temporal",
          "scale": {"domain": [{"year": 2008, "month": 5, "date": 23}, {"year": 2022, "month": 8, "date": 7}]},
          "axis": {
            "values": [{"year": 2010, "month": 1, "date": 1}, {"year": 2012, "month": 7, "date": 2}, {"year": 2015, "month": 1, "date": 1}, {"year": 2017, "month": 7, "date": 2}, {"year": 2020, "month": 1, "date": 1}, {"year": 2022, "month": 7, "date": 2}],
            "labels": false, "title": null, "domainWidth": 2
          }
        },
        "y": {
          "field": "waarde", "type": "quantitative",
          "scale": {"domain": [26.1, 204.4], "nice": false, "zero": false},
          "axis": {
            "values": [50, 75, 100, 125, 150, 175, 200],
            "labelExpr": "datum.value % 50 == 0 ? datum.label : ''",
            "labelPadding": 15, "title": null, "domainWidth": 1.5
          }
        },
        "color": {
          "field": "reeks", "type": "nominal",
          "scale": {"domain": ["A", "B"], "range": ["#F8766D", "#00BFC4"]},
          "legend": null
        }
      },
      "layer": [
        {"mark": {"type": "line", "strokeWidth": 2}},
        {"mark": {"type": "point", "filled": true, "size": 66, "opacity": 1}}
      ]
    },
    {
      "width": 1372,
      "height": 421,
      "data": {"name": "tm02"},
      "title": {
        "text": "Golfperiode berekend uit het spectrum",
        "orient": "right", "anchor": "middle", "offset": 11,
        "fontSize": 22, "fontWeight": "bold", "color": "#3787C7"
      },
      "encoding": {
        "x": {
          "field": "maand", "type": "temporal",
          "scale": {"domain": [{"year": 2008, "month": 5, "date": 23}, {"year": 2022, "month": 8, "date": 7}]},
          "axis": {
            "values": [{"year": 2010, "month": 1, "date": 1}, {"year": 2012, "month": 7, "date": 2}, {"year": 2015, "month": 1, "date": 1}, {"year": 2017, "month": 7, "date": 2}, {"year": 2020, "month": 1, "date": 1}, {"year": 2022, "month": 7, "date": 2}],
            "labelExpr": "month(datum.value) == 0 ? timeFormat(datum.value, '%Y') : ''",
            "labelBaseline": "alphabetic", "labelPadding": 33,
            "title": "Maand", "titleBaseline": "alphabetic", "titleY": 67,
            "domainWidth": 2
          }
        },
        "y": {
          "field": "waarde", "type": "quantitative",
          "scale": {"domain": [11.9, 167.4], "nice": false, "zero": false},
          "axis": {
            "values": [20, 40, 60, 80, 100, 120, 140, 160],
            "labelExpr": "datum.value % 40 == 0 ? datum.label : ''",
            "labelPadding": 15, "domainWidth": 1.5,
            "title": "TH3: Gemiddelde periode van de golven waaruit H3 bepaald is in 0.1 s",
            "titleAngle": 270, "titleAlign": "left", "titleBaseline": "alphabetic",
            "titleX": -65, "titleY": 444, "titleFontSize": 28.5
          }
        },
        "color": {
          "field": "reeks", "type": "nominal",
          "scale": {"domain": ["A", "B"], "range": ["#F8766D", "#00BFC4"]},
          "legend": null
        }
      },
      "layer": [
        {"mark": {"type": "line", "strokeWidth": 2}},
        {"mark": {"type": "point", "filled": true, "size": 66, "opacity": 1}}
      ]
    }
  ]
}
